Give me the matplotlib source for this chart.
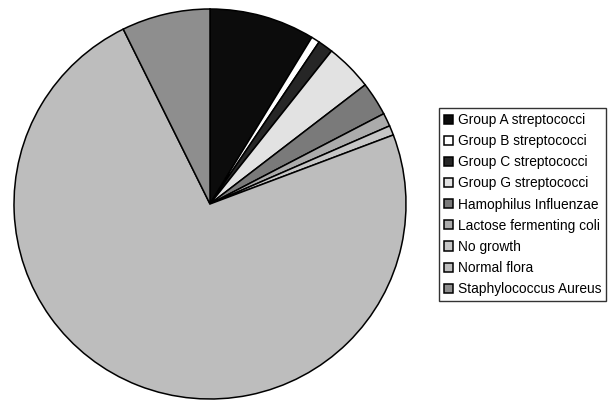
import matplotlib
matplotlib.use("Agg")
import matplotlib.pyplot as plt

labels = ["Group A streptococci", "Group B streptococci", "Group C streptococci",
          "Group G streptococci", "Hamophilus Influenzae", "Lactose fermenting coli",
          "No growth", "Normal flora", "Staphylococcus Aureus"]
# approximate percentages
values = [8.7, 0.7, 1.25, 3.9, 2.8, 1.1, 0.8, 73.5, 7.3]
colors = ["#0c0c0c", "#ffffff", "#262626", "#e2e2e2", "#7a7a7a",
          "#ababab", "#c6c6c6", "#bdbdbd", "#8e8e8e"]

plt.rcParams["font.family"] = ["Liberation Sans", "DejaVu Sans"]

fig = plt.figure(figsize=(6.1, 4.03), dpi=100)
ax = fig.add_axes([14 / 610, 4 / 403, 392 / 610, 390 / 403])

wedges, _ = ax.pie(values, colors=colors, startangle=90, counterclock=False,
                   wedgeprops={"edgecolor": "black", "linewidth": 1.1})
ax.set_aspect("auto")
ax.set_xlim(-1, 1)
ax.set_ylim(-1, 1)

leg = fig.legend(wedges, labels, loc="upper left",
                 bbox_to_anchor=(439 / 610, 1 - 108 / 403),
                 fontsize=9.9, frameon=True, fancybox=False,
                 handlelength=0.65, handleheight=0.65, handletextpad=0.36,
                 labelspacing=0.52, borderpad=0.36, borderaxespad=0)
leg.get_frame().set_edgecolor("black")
leg.get_frame().set_linewidth(1.0)

fig.savefig("out.png", dpi=100)
